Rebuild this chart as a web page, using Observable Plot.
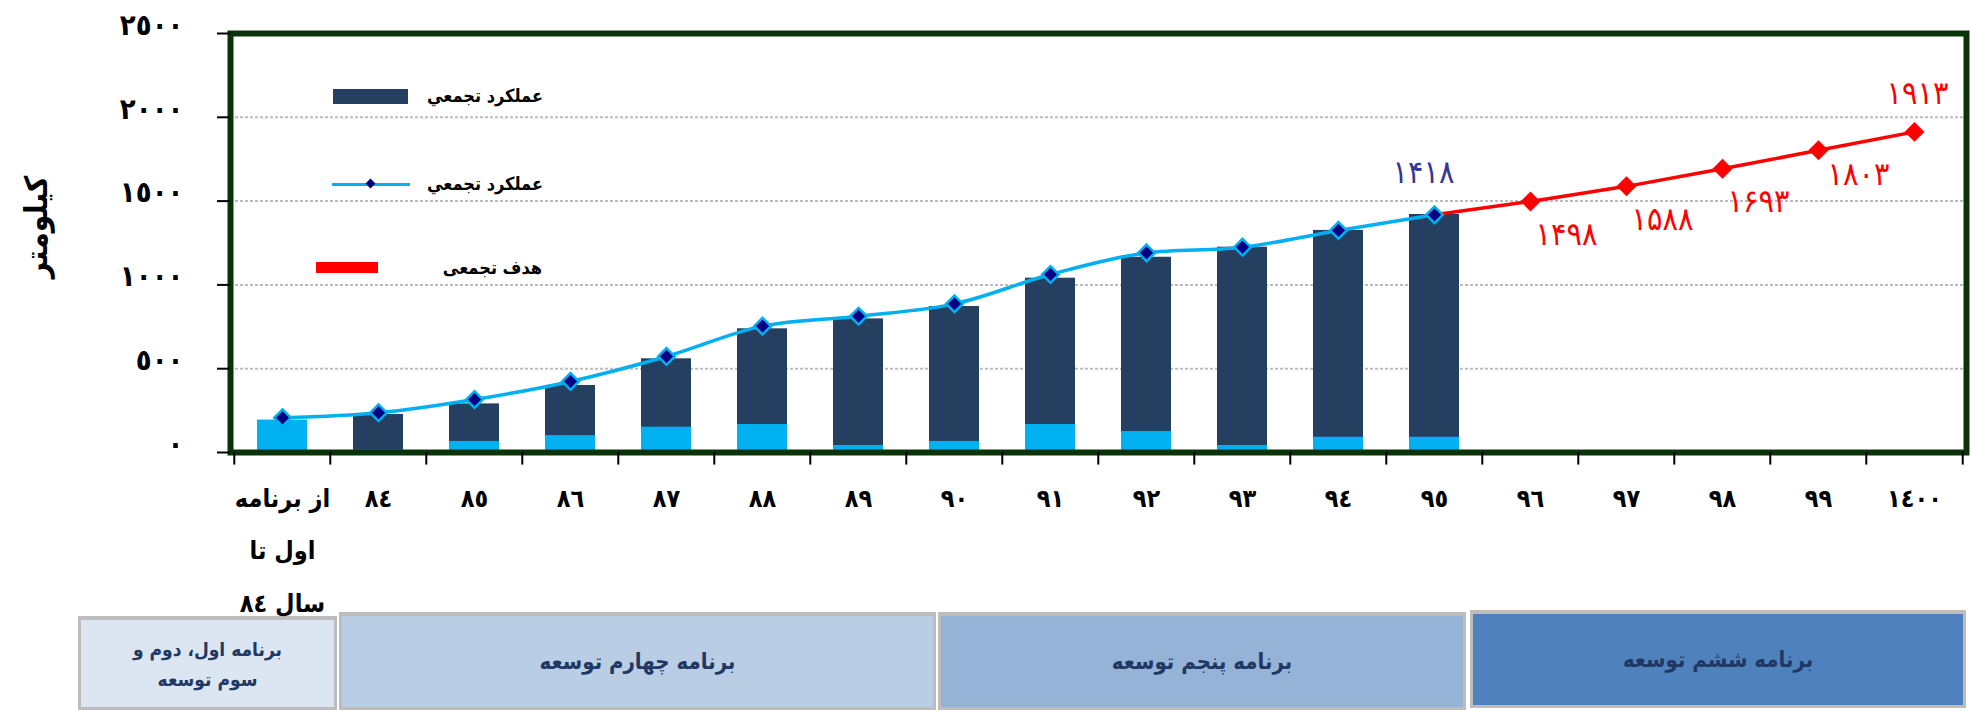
<!DOCTYPE html>
<html><head><meta charset="utf-8">
<script src="https://cdn.jsdelivr.net/npm/d3@7"></script>
<script src="https://cdn.jsdelivr.net/npm/@observablehq/plot@0.6"></script>
<style>
body{margin:0;background:#fff;font-family:"DejaVu Sans Condensed","DejaVu Sans",sans-serif;}
#wrap{position:relative;width:1970px;height:710px;overflow:hidden;background:#fff;}
#wrap svg{position:absolute;left:0;top:0;z-index:2;}
.abs{position:absolute;}
.lt{position:absolute;transform:translateY(-50%);font-weight:bold;font-size:18px;color:#000;white-space:nowrap;direction:rtl;}
.box{position:absolute;box-sizing:border-box;border:3px solid #bdbdbd;border-top-width:4px;display:flex;align-items:center;justify-content:center;text-align:center;color:#1f3864;font-weight:bold;font-size:22px;line-height:30px;direction:rtl;}
#ytitle{position:absolute;left:36px;top:227px;transform:translate(-50%,-50%) rotate(-90deg);font-weight:bold;font-size:31px;white-space:nowrap;}
</style></head><body><div id="wrap">
<div id="ytitle">کیلومتر</div>
<div class="abs" style="left:333px;top:89px;width:75px;height:15px;background:#243F60"></div>
<div class="lt" style="right:1427px;top:95px">عملکرد تجمعي</div>
<div class="abs" style="left:332px;top:183px;width:78px;height:3px;background:#00B0F0"></div>
<div class="abs" style="left:367px;top:180px;width:7px;height:7px;background:#000080;transform:rotate(45deg)"></div>
<div class="lt" style="right:1427px;top:183px">عملکرد تجمعي</div>
<div class="abs" style="left:316px;top:262px;width:62px;height:11px;background:#ff0000"></div>
<div class="lt" style="right:1428px;top:267px">هدف تجمعی</div>
<div class="box" style="left:78px;top:616px;width:259px;height:94px;background:#dce6f2;font-size:19px">برنامه اول، دوم و<br>سوم توسعه</div>
<div class="box" style="left:339px;top:612px;width:597px;height:98px;background:#b9cde5">برنامه چهارم توسعه</div>
<div class="box" style="left:938px;top:612px;width:528px;height:98px;background:#95b3d7">برنامه پنجم توسعه</div>
<div class="box" style="left:1470px;top:610px;width:496px;height:98px;background:#4f81bd">برنامه ششم توسعه</div>
</div>
<script>
// ---- data ----
const categories = ["0-84","84","85","86","87","88","89","90","91","92","93","94","95","96","97","98","99","1400"];
const xLabels = ["از برنامه\nاول تا\nسال ٨٤","٨٤","٨٥","٨٦","٨٧","٨٨","٨٩","٩٠","٩١","٩٢","٩٣","٩٤","٩٥","٩٦","٩٧","٩٨","٩٩","١٤٠٠"];
const actualYears = ["0-84","84","85","86","87","88","89","90","91","92","93","94","95"];
const cumulativeBars = [192, 227, 290, 400, 559, 738, 797, 871, 1040, 1165, 1225, 1325, 1420];
const annualBars = [192, 15, 66, 101, 151, 167, 42, 66, 167, 125, 42, 91, 91];
const cumulativeLine = [207, 237, 316, 424, 573, 754, 813, 887, 1062, 1191, 1225, 1325, 1418];
const targetYears = ["95","96","97","98","99","1400"];
const targetValues = [1418, 1498, 1588, 1693, 1803, 1913];
const yTicks = [0, 500, 1000, 1500, 2000, 2500];

const toAr = s => String(s).replace(/\d/g, c => "٠١٢٣٤٥٦٧٨٩"[+c]);
const toFa = s => String(s).replace(/\d/g, c => "۰۱۲۳۴۵۶۷۸۹"[+c]);

const actual = actualYears.map((c, i) => ({c, cum: cumulativeBars[i], ann: annualBars[i], line: cumulativeLine[i]}));
const target = targetYears.map((c, i) => ({c, v: targetValues[i]}));

const W = 1970, ML = 230, MR = 4;
const step = (W - ML - MR) / categories.length;
const font = '"DejaVu Sans Condensed","DejaVu Sans",sans-serif';

const chart = Plot.plot({
  width: W, height: 612,
  marginTop: 33, marginBottom: 160, marginLeft: ML, marginRight: MR,
  style: {fontFamily: font, background: "transparent", overflow: "visible", color: "#000"},
  x: {domain: categories, paddingInner: 0.48, paddingOuter: 0.24, axis: null},
  y: {domain: [0, 2500], axis: null},
  marks: [
    Plot.gridY(yTicks.filter(v => v > 0 && v < 2500), {stroke: "#bdbdbd", strokeOpacity: 1, strokeWidth: 2, strokeDasharray: "3,2"}),
    Plot.barY(actual, {x: "c", y: "cum", fill: "#243F60"}),
    Plot.barY(actual, {x: "c", y: "ann", fill: "#00B0F0"}),
    Plot.line(target, {x: "c", y: "v", stroke: "#ff0000", strokeWidth: 3.5}),
    Plot.dot(target.slice(1), {x: "c", y: "v", symbol: "diamond2", r: 9, fill: "#ff0000"}),
    Plot.line(actual, {x: "c", y: "line", stroke: "#00B0F0", strokeWidth: 3.5, curve: "monotone-x"}),
    Plot.dot(actual, {x: "c", y: "line", symbol: "diamond2", r: 7.5, fill: "#000080", stroke: "#00B0F0", strokeWidth: 2.5}),
    Plot.text(target.slice(0, 1), {x: "c", y: "v", text: d => toFa(d.v), dx: -11, dy: -42, fill: "#363695", fontSize: 32}),
    Plot.text(target.slice(1, 4), {x: "c", y: "v", text: d => toFa(d.v), dx: 36, dy: 33, fill: "#ff0000", fontSize: 32}),
    Plot.text(target.slice(4, 5), {x: "c", y: "v", text: d => toFa(d.v), dx: 40, dy: 24, fill: "#ff0000", fontSize: 32}),
    Plot.text(target.slice(5), {x: "c", y: "v", text: d => toFa(d.v), dx: 3, dy: -38, fill: "#ff0000", fontSize: 32}),
    Plot.frame({stroke: "#0a330a", strokeWidth: 6}),
    Plot.axisY({ticks: yTicks, tickSize: 13, tickFormat: () => "", strokeWidth: 2}),
    Plot.axisY({ticks: yTicks, tickSize: 0, tickPadding: 47, tickFormat: toAr, dy: -8, fontSize: 29, fontWeight: "bold"}),
    Plot.ruleX(categories, {x: d => d, dx: -step / 2, y1: 0, y2: -75, stroke: "#000", strokeWidth: 2}),
    Plot.ruleX(categories.slice(-1), {x: d => d, dx: step / 2, y1: 0, y2: -75, stroke: "#000", strokeWidth: 2}),
    Plot.text(categories, {x: d => d, text: (d, i) => xLabels[i], frameAnchor: "bottom", lineAnchor: "top", dy: 17, fontSize: 25, fontWeight: "bold", lineHeight: 2.1})
  ]
});
document.getElementById("wrap").prepend(chart);
</script></body></html>
